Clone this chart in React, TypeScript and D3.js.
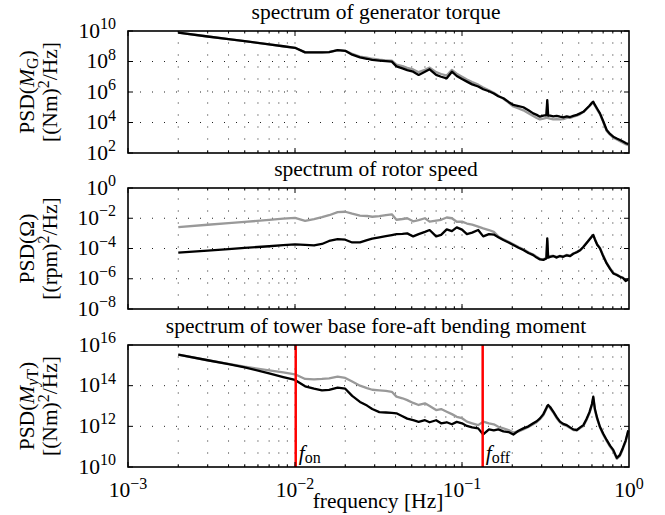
import React from "react";
import * as d3 from "d3";

// Shared frequency grid [Hz]
const FREQ_HZ = [
  0.002, 0.003, 0.004, 0.005, 0.007, 0.0085, 0.01, 0.0115, 0.013, 0.0145,
  0.016, 0.018, 0.02, 0.022, 0.0245, 0.027, 0.029, 0.032, 0.035, 0.038,
  0.0405, 0.044, 0.047, 0.051, 0.055, 0.06, 0.064, 0.07, 0.075, 0.081,
  0.087, 0.093, 0.1, 0.107, 0.115, 0.125, 0.134, 0.145, 0.155, 0.165,
  0.177, 0.19, 0.203, 0.218, 0.233, 0.25, 0.267, 0.28, 0.293, 0.307,
  0.32, 0.324, 0.328, 0.337, 0.352, 0.369, 0.386, 0.404, 0.424, 0.444,
  0.464, 0.487, 0.51, 0.533, 0.556, 0.58, 0.6, 0.611, 0.625, 0.645,
  0.67, 0.7, 0.735, 0.77, 0.805, 0.845, 0.883, 0.92, 0.955, 0.99,
];

// PSD values given as decade exponents (log10 of PSD)
const TORQUE_BLACK_LOG = [
  9.9, 9.64, 9.47, 9.33, 9.12, 9.0, 8.9, 8.6, 8.6, 8.6,
  8.62, 8.75, 8.7, 8.45, 8.27, 8.18, 8.1, 8.06, 8.02, 7.99,
  7.68, 7.55, 7.44, 7.33, 7.12, 7.33, 7.49, 7.12, 7.0, 6.9,
  7.33, 7.05, 6.85, 6.68, 6.5, 6.36, 6.18, 6.05, 5.9, 5.72,
  5.59, 5.35, 5.15, 5.08, 5.0, 4.8, 4.6, 4.5, 4.38, 4.45,
  4.49, 5.47, 4.45, 4.45, 4.4, 4.43, 4.38, 4.34, 4.4, 4.36,
  4.43, 4.5, 4.6, 4.7, 4.9, 5.1, 5.3, 5.36, 5.15, 4.9,
  4.6, 4.1, 3.51, 3.25, 3.07, 2.95, 2.85, 2.75, 2.65, 2.59,
];
const TORQUE_GRAY_LOG = [
  9.9, 9.64, 9.47, 9.33, 9.12, 9.0, 8.9, 8.6, 8.6, 8.6,
  8.62, 8.75, 8.7, 8.5, 8.32, 8.25, 8.18, 8.12, 8.08, 8.05,
  7.8, 7.7, 7.58, 7.48, 7.3, 7.45, 7.6, 7.3, 7.18, 7.08,
  7.45, 7.2, 7.0, 6.82, 6.65, 6.48, 6.3, 6.12, 5.95, 5.75,
  5.55, 5.3, 5.05, 4.92, 4.8, 4.6, 4.42, 4.3, 4.2, 4.25,
  4.3, 5.2, 4.28, 4.25, 4.2, 4.22, 4.2, 4.22, 4.3, 4.3,
  4.38, 4.45, 4.55, 4.68, 4.88, 5.08, 5.25, 5.3, 5.1, 4.85,
  4.55, 4.05, 3.45, 3.2, 3.0, 2.88, 2.78, 2.68, 2.58, 2.52,
];
const SPEED_BLACK_LOG = [
  -4.27, -4.14, -4.04, -3.96, -3.85, -3.78, -3.73, -3.76, -3.8, -3.7,
  -3.5, -3.38, -3.42, -3.6, -3.6, -3.45, -3.35, -3.26, -3.18, -3.11,
  -3.05, -3.03, -3.0, -3.2, -3.05, -2.9, -2.78, -3.2, -3.1, -2.74,
  -2.85, -2.6, -2.75, -3.05, -2.95, -2.78, -3.2, -3.05, -3.08, -3.25,
  -3.44, -3.6, -3.77, -3.95, -4.1, -4.3, -4.44, -4.6, -4.72, -4.75,
  -4.66, -3.33, -4.6, -4.55, -4.5, -4.6, -4.5, -4.55, -4.45, -4.5,
  -4.35, -4.25, -4.12, -3.9, -3.65, -3.4, -3.2, -3.11, -3.4, -3.75,
  -3.99, -4.5, -4.99, -5.35, -5.65, -5.75, -5.87, -5.95, -6.15, -6.05,
];
const SPEED_GRAY_LOG = [
  -2.59, -2.43, -2.32, -2.24, -2.11, -2.03, -1.97, -2.17, -2.05, -1.93,
  -1.8, -1.6, -1.57, -1.7, -1.82, -1.85, -1.9, -1.86, -1.8, -1.74,
  -2.1, -2.05, -2.0, -2.2, -2.12, -2.0, -2.22, -2.15, -2.1, -1.95,
  -2.0, -2.23, -2.22, -2.35, -2.42, -2.55, -2.67, -2.78, -2.9, -3.2,
  -3.4, -3.55, -3.72, -3.9, -4.05, -4.25, -4.4, -4.55, -4.68, -4.72,
  -4.62, -3.5, -4.55, -4.5, -4.48, -4.55, -4.48, -4.52, -4.42, -4.48,
  -4.33, -4.22, -4.1, -3.88, -3.63, -3.38, -3.18, -3.1, -3.38, -3.72,
  -3.96, -4.45, -4.95, -5.3, -5.6, -5.72, -5.85, -5.92, -6.1, -6.02,
];
const TOWER_BLACK_LOG = [
  15.53, 15.25, 15.06, 14.9, 14.6, 14.42, 14.28, 13.97, 13.85, 13.77,
  13.79, 13.9, 13.85, 13.5, 13.2, 13.02, 12.85, 12.7, 12.68, 12.66,
  12.64, 12.5, 12.38, 12.3, 12.22, 12.3, 12.2, 12.3, 12.15, 12.2,
  12.1, 12.22, 12.15, 12.02, 11.95, 11.9, 11.6, 11.85, 11.8, 11.85,
  11.75, 11.72, 11.6, 11.78, 11.9, 12.0, 12.15, 12.25, 12.39, 12.6,
  12.9, 13.0, 13.05, 12.95, 12.72, 12.45, 12.23, 12.12, 12.06, 11.95,
  11.85, 11.82, 11.95, 12.06, 12.35, 12.7, 13.1, 13.46, 12.85, 12.4,
  11.98, 11.65, 11.33, 11.05, 10.84, 10.45, 10.6, 10.95, 11.3, 11.8,
];
const TOWER_GRAY_LOG = [
  15.53, 15.25, 15.07, 14.93, 14.75, 14.65, 14.56, 14.33, 14.31, 14.33,
  14.36, 14.44, 14.38, 14.2, 14.0, 13.88, 13.8, 13.77, 13.74, 13.7,
  13.46, 13.38, 13.29, 13.15, 13.05, 13.13, 13.0, 12.8, 12.85, 12.72,
  12.6, 12.47, 12.4, 12.23, 12.15, 12.06, 12.23, 12.15, 12.1, 11.98,
  11.9, 11.82, 11.7, 11.75, 11.85, 11.97, 12.1, 12.2, 12.35, 12.55,
  12.85, 12.95, 13.0, 12.9, 12.68, 12.4, 12.2, 12.08, 12.02, 11.92,
  11.82, 11.8, 11.92, 12.02, 12.3, 12.65, 13.05, 13.4, 12.8, 12.35,
  11.95, 11.6, 11.28, 11.0, 10.78, 10.4, 10.55, 10.9, 11.25, 11.75,
];

const X_TICK_EXPONENTS = [-3, -2, -1, 0];
const Y_TICKS_TORQUE = [10, 8, 6, 4, 2];
const Y_TICKS_SPEED = [0, -2, -4, -6, -8];
const Y_TICKS_TOWER = [16, 14, 12, 10];
const TITLES = [
  "spectrum of generator torque",
  "spectrum of rotor speed",
  "spectrum of tower base fore-aft bending moment",
];
const F_ON = 0.0101;
const F_OFF = 0.133;

const FONT = "'Liberation Serif', 'Times New Roman', serif";
const FS = 21.5;
const FS_SUP = 16;
const LEFT = 128;
const RIGHT = 629;

const fmtExp = (e: number) => (e < 0 ? "\u2212" + Math.abs(e) : String(e));

function Panel({
  top, bottom, ticks, black, gray, title, label1, label2, children,
}: any) {
  const x = d3.scaleLog().domain([1e-3, 1]).range([LEFT, RIGHT]);
  const yMin = Math.min(...ticks), yMax = Math.max(...ticks);
  const y = d3.scaleLog().domain([10 ** yMin, 10 ** yMax]).range([bottom, top]);
  const line = d3
    .line<number>()
    .x((_, i) => x(FREQ_HZ[i]))
    .y((v) => y(10 ** v));
  const minors: number[] = [];
  for (let d = -3; d < 0; d++) for (let k = 1; k <= 9; k++) minors.push(k * 10 ** d);
  const vGrid = minors.filter((v) => v > 1.0001e-3);
  const cy = (top + bottom) / 2;
  return (
    <g>
      <text x={376} y={top - 12} textAnchor="middle" fontSize={FS} fontFamily={FONT}>
        {title}
      </text>
      {vGrid.map((v, i) => (
        <line key={"vg" + i} x1={x(v)} x2={x(v)} y1={bottom - 1.5} y2={top}
          stroke="#222" strokeWidth={1} strokeDasharray="1 11" />
      ))}
      {ticks.filter((t: number) => t !== yMin && t !== yMax).map((t: number) => (
        <line key={"hg" + t} x1={LEFT} x2={RIGHT} y1={y(10 ** t)} y2={y(10 ** t)}
          stroke="#222" strokeWidth={1} strokeDasharray="1 11" />
      ))}
      <path d={line(gray) || ""} fill="none" stroke="#999" strokeWidth={2.3} strokeLinejoin="round" />
      <path d={line(black) || ""} fill="none" stroke="#000" strokeWidth={2.3} strokeLinejoin="round" />
      {children && children(x, y)}
      {minors.map((v, i) => {
        const isMajor = i % 9 === 0;
        const len = isMajor ? 5 : 2.5;
        return (
          <g key={"xt" + i}>
            <line x1={x(v)} x2={x(v)} y1={bottom} y2={bottom - len} stroke="#000" strokeWidth={1} />
            <line x1={x(v)} x2={x(v)} y1={top} y2={top + len} stroke="#000" strokeWidth={1} />
          </g>
        );
      })}
      {ticks.map((t: number) => (
        <g key={"yt" + t}>
          <line x1={LEFT} x2={LEFT + 5} y1={y(10 ** t)} y2={y(10 ** t)} stroke="#000" strokeWidth={1} />
          <line x1={RIGHT} x2={RIGHT - 5} y1={y(10 ** t)} y2={y(10 ** t)} stroke="#000" strokeWidth={1} />
          <text x={116} y={y(10 ** t) + 6.5} textAnchor="end" fontSize={FS} fontFamily={FONT}>
            10<tspan dy={-8.5} fontSize={FS_SUP}>{fmtExp(t)}</tspan>
          </text>
        </g>
      ))}
      <rect x={LEFT} y={top} width={RIGHT - LEFT} height={bottom - top} fill="none" stroke="#000" strokeWidth={1.6} />
      <text transform={`translate(34,${cy}) rotate(-90)`} textAnchor="middle" fontSize={FS} fontFamily={FONT}>
        {label1}
      </text>
      <text transform={`translate(57,${cy}) rotate(-90)`} textAnchor="middle" fontSize={FS} fontFamily={FONT}>
        {label2}
      </text>
    </g>
  );
}

const unitLabel = (u: string) => (
  <>
    [({u})<tspan dy={-8} fontSize={FS_SUP}>2</tspan>
    <tspan dy={8}>/Hz]</tspan>
  </>
);

export default function App() {
  const W = 665, H = 515;
  const x = d3.scaleLog().domain([1e-3, 1]).range([LEFT, RIGHT]);
  return (
    <svg width={W} height={H} style={{ position: "absolute", left: 0, top: 0, background: "#fff" }}>
      <rect width={W} height={H} fill="#fff" />
      <Panel
        top={31} bottom={153} ticks={Y_TICKS_TORQUE}
        black={TORQUE_BLACK_LOG} gray={TORQUE_GRAY_LOG} title={TITLES[0]}
        label1={<>PSD(<tspan fontStyle="italic">M</tspan><tspan fontSize={FS_SUP} dy={4}>G</tspan><tspan dy={-4}>)</tspan></>}
        label2={unitLabel("Nm")}
      />
      <Panel
        top={188} bottom={309} ticks={Y_TICKS_SPEED}
        black={SPEED_BLACK_LOG} gray={SPEED_GRAY_LOG} title={TITLES[1]}
        label1={<>PSD(Ω)</>}
        label2={unitLabel("rpm")}
      />
      <Panel
        top={345} bottom={467} ticks={Y_TICKS_TOWER}
        black={TOWER_BLACK_LOG} gray={TOWER_GRAY_LOG} title={TITLES[2]}
        label1={<>PSD(<tspan fontStyle="italic">M</tspan><tspan fontSize={FS_SUP} dy={4} fontStyle="italic">y</tspan><tspan fontSize={FS_SUP}>T</tspan><tspan dy={-4}>)</tspan></>}
        label2={unitLabel("Nm")}
      >
        {(xs: any) => (
          <g>
            {[F_ON, F_OFF].map((f, i) => (
              <g key={"f" + i}>
                <line x1={xs(f)} x2={xs(f)} y1={345} y2={467} stroke="#ff0000" strokeWidth={2.5} />
                <text x={xs(f) + 3} y={460} fontSize={FS} fontFamily={FONT}>
                  <tspan fontStyle="italic">f</tspan>
                  <tspan fontSize={FS_SUP} dy={3}>{i === 0 ? "on" : "off"}</tspan>
                </text>
              </g>
            ))}
          </g>
        )}
      </Panel>
      {X_TICK_EXPONENTS.map((e) => (
        <text key={"xl" + e} x={x(10 ** e)} y={497} textAnchor="middle" fontSize={FS} fontFamily={FONT}>
          10<tspan dy={-8.5} fontSize={FS_SUP}>{fmtExp(e)}</tspan>
        </text>
      ))}
      <text x={378} y={508} textAnchor="middle" fontSize={FS} fontFamily={FONT}>
        frequency [Hz]
      </text>
    </svg>
  );
}
